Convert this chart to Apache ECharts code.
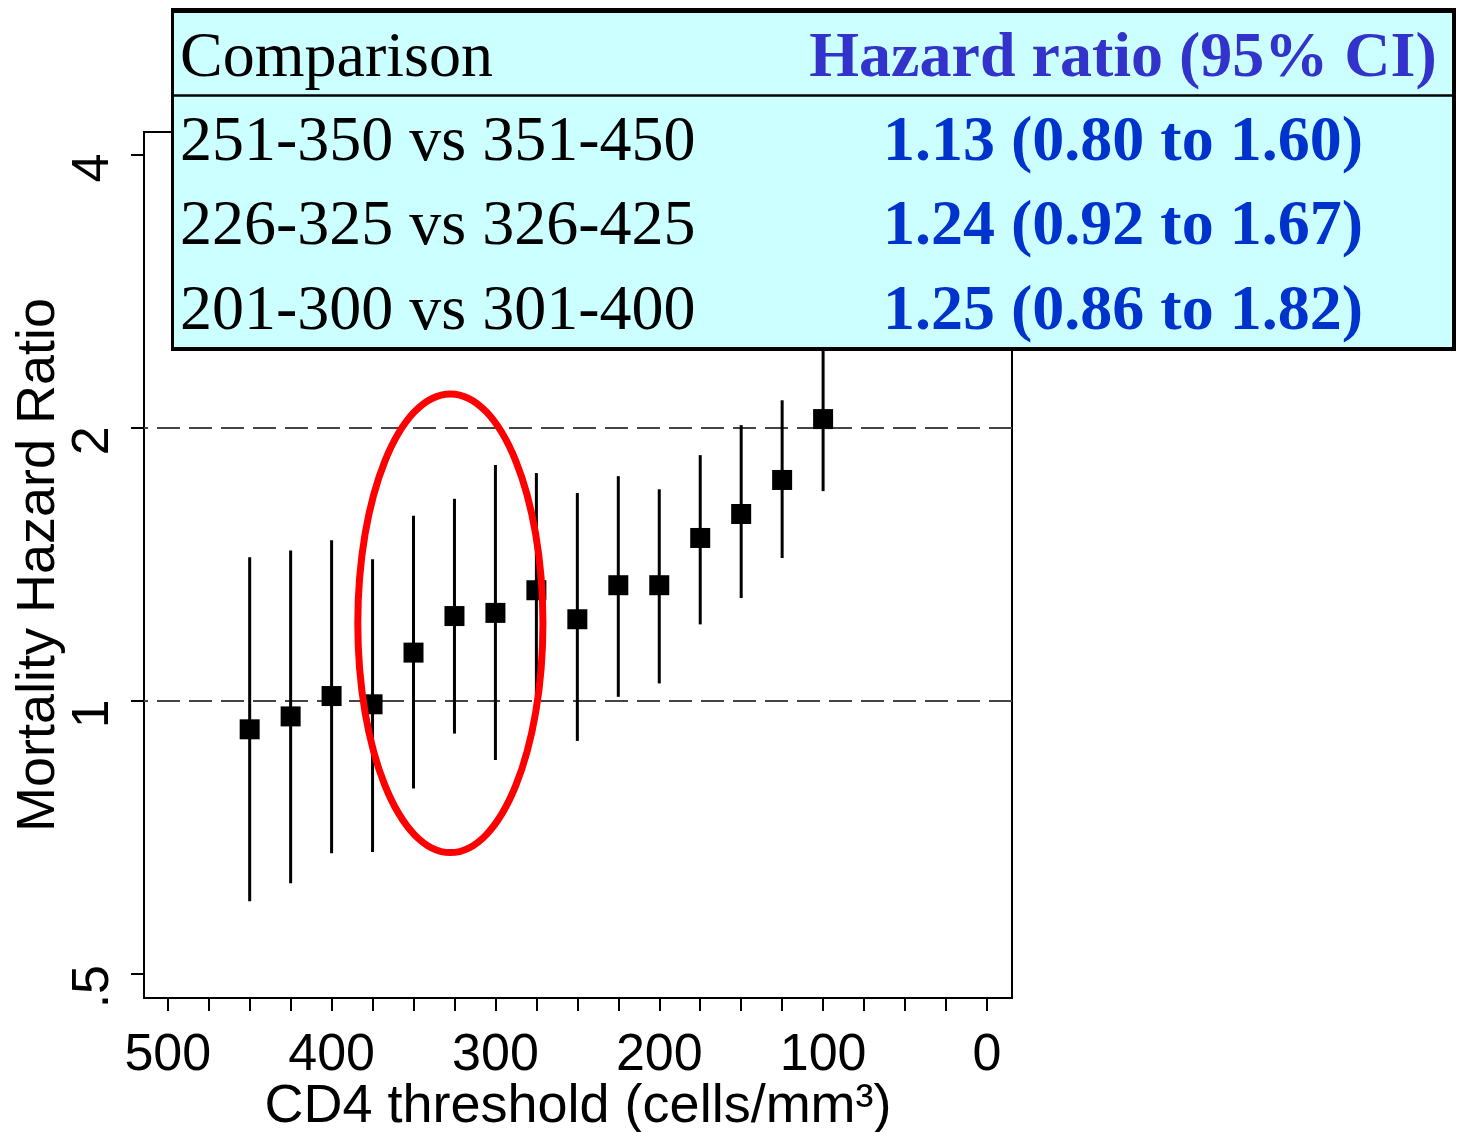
<!DOCTYPE html>
<html>
<head>
<meta charset="utf-8">
<title>Mortality hazard ratio by CD4 threshold</title>
<script src="https://cdn.jsdelivr.net/npm/echarts@6/dist/echarts.min.js"></script>
<style>
  html, body { margin: 0; padding: 0; background: #ffffff; }
  #chart { width: 1460px; height: 1132px; }
</style>
</head>
<body>
<div id="chart"></div>
<script>
// CD4 thresholds (cells/mm3) and mortality hazard ratios with 95% CI
const thresholds  = [450, 425, 400, 375, 350, 325, 300, 275, 250, 225, 200, 175, 150, 125, 100];
const hazardRatio = [0.930, 0.961, 1.012, 0.991, 1.13, 1.24, 1.25, 1.324, 1.230, 1.341, 1.341, 1.512, 1.607, 1.752, 2.045];
const ciLower     = [0.601, 0.629, 0.679, 0.681, 0.80, 0.92, 0.86, 1.015, 0.903, 1.010, 1.045, 1.214, 1.298, 1.437, 1.703];
const ciUpper     = [1.440, 1.465, 1.503, 1.432, 1.60, 1.67, 1.82, 1.783, 1.695, 1.769, 1.711, 1.866, 2.014, 2.145, 2.500];

// Axis ticks and labels
const xTickValues  = [500, 475, 450, 425, 400, 375, 350, 325, 300, 275, 250, 225, 200, 175, 150, 125, 100, 75, 50, 25, 0];
const xLabelValues = [500, 400, 300, 200, 100, 0];
const yTickValues  = [0.5, 1, 2, 4];
const yTickLabels  = ['.5', '1', '2', '4'];
const referenceLines = [1, 2];

// Summary table
const tableHeader = ['Comparison', 'Hazard ratio (95% CI)'];
const comparisonLabels = ['251-350 vs 351-450', '226-325 vs 326-425', '201-300 vs 301-400'];
const comparisonThresholds = [350, 325, 300];

const SANS = '"Liberation Sans", Arial, Helvetica, sans-serif';
const SERIF = '"Liberation Serif", "Times New Roman", Times, serif';

const rows = thresholds.map((t, i) => [t, hazardRatio[i], ciLower[i], ciUpper[i]]);
const fmt = v => v.toFixed(2);

const chart = echarts.init(document.getElementById('chart'), null, { renderer: 'canvas' });

const option = {
  animation: false,
  backgroundColor: '#ffffff',
  grid: {
    left: 144, right: 448, top: 132, bottom: 134,
    show: true, borderColor: '#000', borderWidth: 2, backgroundColor: 'transparent',
    containLabel: false, outerBoundsMode: 'none'
  },
  xAxis: {
    type: 'value',
    inverse: true,
    min: -15.3,
    max: 514.5,
    name: 'CD4 threshold (cells/mm³)',
    nameLocation: 'middle',
    nameGap: 82,
    nameMoveOverlap: false,
    nameTextStyle: { fontFamily: SANS, fontSize: 54, color: '#000' },
    axisLine: { show: true, onZero: false, lineStyle: { color: '#000', width: 2 } },
    axisTick: { show: true, inside: false, length: 13, customValues: xTickValues, lineStyle: { color: '#000', width: 2 } },
    axisLabel: { customValues: xLabelValues, margin: 32, fontFamily: SANS, fontSize: 52, color: '#000', formatter: v => String(v) },
    splitLine: { show: false },
    minorTick: { show: false }
  },
  yAxis: {
    type: 'log',
    logBase: 2,
    min: 0.47,
    max: 4.24,
    name: 'Mortality Hazard Ratio',
    nameLocation: 'middle',
    nameGap: 78,
    nameMoveOverlap: false,
    nameTextStyle: { fontFamily: SANS, fontSize: 54, color: '#000' },
    axisLine: { show: true, onZero: false, lineStyle: { color: '#000', width: 2 } },
    axisTick: { show: true, inside: false, length: 13, customValues: yTickValues, lineStyle: { color: '#000', width: 2 } },
    axisLabel: {
      customValues: yTickValues,
      rotate: 90,
      margin: 24,
      padding: [0, 26, 0, 0],
      fontFamily: SANS, fontSize: 52, color: '#000',
      formatter: v => {
        const i = yTickValues.findIndex(t => Math.abs(t - v) < 1e-6);
        return i >= 0 ? yTickLabels[i] : '';
      }
    },
    splitLine: { show: false },
    minorTick: { show: false }
  },
  series: [
    {
      // 95% confidence intervals
      type: 'custom',
      name: 'CI',
      data: rows,
      encode: { x: 0, y: [1, 2, 3] },
      z: 2,
      renderItem: (params, api) => {
        const x = api.value(0);
        const lo = api.coord([x, api.value(2)]);
        const hi = api.coord([x, api.value(3)]);
        return {
          type: 'line',
          shape: { x1: lo[0], y1: lo[1], x2: hi[0], y2: hi[1] },
          style: { stroke: '#000', lineWidth: 3 }
        };
      },
      markLine: {
        silent: true,
        z: 1,
        symbol: ['none', 'none'],
        label: { show: false },
        lineStyle: { type: [23, 9], color: '#444', width: 2 },
        data: referenceLines.map(v => ({ yAxis: v }))
      }
    },
    {
      // Point estimates
      type: 'scatter',
      name: 'Hazard ratio',
      data: rows.map(r => [r[0], r[1]]),
      symbol: 'rect',
      symbolSize: 20,
      itemStyle: { color: '#000', opacity: 1 },
      z: 3
    }
  ]
};

chart.setOption(option);

// Red ellipse around the thresholds used in the comparisons (data units)
const ringX = [384, 271];
const ringY = [0.68, 2.18];
const pA = chart.convertToPixel({ gridIndex: 0 }, [ringX[0], ringY[0]]);
const pB = chart.convertToPixel({ gridIndex: 0 }, [ringX[1], ringY[1]]);

// Summary table text, built from the same estimates as the points
const tableValues = comparisonThresholds.map(t => {
  const i = thresholds.indexOf(t);
  return `${fmt(hazardRatio[i])} (${fmt(ciLower[i])} to ${fmt(ciUpper[i])})`;
});

const graphics = [
  {
    type: 'ellipse',
    z: 50,
    shape: { cx: (pA[0] + pB[0]) / 2, cy: (pA[1] + pB[1]) / 2, rx: Math.abs(pB[0] - pA[0]) / 2, ry: Math.abs(pB[1] - pA[1]) / 2 },
    style: { fill: 'none', stroke: '#ff0000', lineWidth: 7 }
  },
  { type: 'rect', z: 100, shape: { x: 171, y: 8, width: 1285, height: 343 }, style: { fill: '#000' } },
  { type: 'rect', z: 101, shape: { x: 174, y: 13, width: 1278, height: 334 }, style: { fill: '#ccffff' } },
  { type: 'line', z: 102, shape: { x1: 172, y1: 95.5, x2: 1453, y2: 95.5 }, style: { stroke: '#000', lineWidth: 2.5 } },
  {
    type: 'text', z: 103, x: 180, y: 59,
    style: { text: tableHeader[0], font: `normal 64px ${SERIF}`, fill: '#000', align: 'left', verticalAlign: 'middle' }
  },
  {
    type: 'text', z: 103, x: 1123, y: 59,
    style: { text: tableHeader[1], font: `bold 64px ${SERIF}`, fill: '#3333cc', align: 'center', verticalAlign: 'middle' }
  }
];

comparisonLabels.forEach((label, i) => {
  const y = 143 + i * 84.5;
  graphics.push({
    type: 'text', z: 103, x: 180, y: y,
    style: { text: label, font: `normal 64px ${SERIF}`, fill: '#000', align: 'left', verticalAlign: 'middle' }
  });
  graphics.push({
    type: 'text', z: 103, x: 1123, y: y,
    style: { text: tableValues[i], font: `bold 64px ${SERIF}`, fill: '#0033cc', align: 'center', verticalAlign: 'middle' }
  });
});

chart.setOption({ graphic: graphics });
</script>
</body>
</html>
